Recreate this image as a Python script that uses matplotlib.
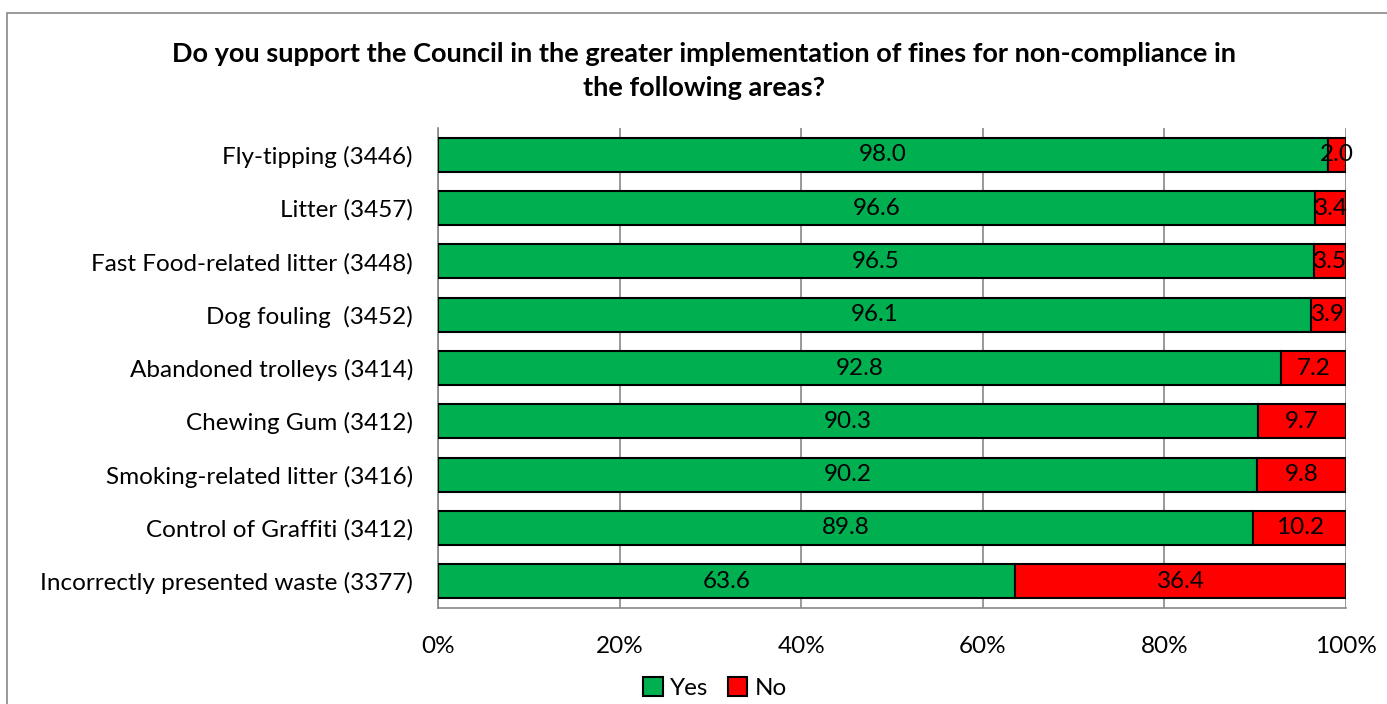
import numpy as np
import matplotlib.pyplot as plt
from matplotlib.patches import Rectangle
from matplotlib.ticker import FuncFormatter

plt.rcParams['font.family'] = ['Lato', 'DejaVu Sans']

categories = ['Fly-tipping (3446)', 'Litter (3457)', 'Fast Food-related litter (3448)',
              'Dog fouling  (3452)', 'Abandoned trolleys (3414)', 'Chewing Gum (3412)',
              'Smoking-related litter (3416)', 'Control of Graffiti (3412)',
              'Incorrectly presented waste (3377)']
yes_vals = [98.0, 96.6, 96.5, 96.1, 92.8, 90.3, 90.2, 89.8, 63.6]
no_vals = [2.0, 3.4, 3.5, 3.9, 7.2, 9.7, 9.8, 10.2, 36.4]
title = 'Do you support the Council in the greater implementation of fines for non-compliance in\nthe following areas?'

green = '#00B050'
red = '#FF0000'
fs = 17.5

fig = plt.figure(figsize=(13.87, 7.04), dpi=100)
ax = fig.add_axes([438/1387, 1-608/704, (1346-438)/1387, 480/704])

# chart border
fig.patches.append(Rectangle((7/1387, -0.05), 1.1, 1-13/704+0.05, transform=fig.transFigure,
                             fill=False, edgecolor='#888888', linewidth=1.2))

y = np.arange(len(categories))
ax.barh(y, yes_vals, height=0.64, color=green, edgecolor='black', linewidth=1.5, label='Yes', zorder=3)
ax.barh(y, no_vals, left=yes_vals, height=0.64, color=red, edgecolor='black', linewidth=1.5, label='No', zorder=3)

for i in range(len(categories)):
    ax.text(yes_vals[i] / 2, i, f'{yes_vals[i]:.1f}', ha='center', va='center', fontsize=fs, zorder=4)
    ax.text(yes_vals[i] + no_vals[i] / 2, i, f'{no_vals[i]:.1f}', ha='center', va='center', fontsize=fs, zorder=4)

ax.set_xlim(0, 100)
ax.set_ylim(len(categories) - 0.5, -0.5)
ax.set_yticks(y)
ax.set_yticklabels(categories, fontsize=fs)
ax.set_xticks(np.arange(0, 101, 20))
ax.xaxis.set_major_formatter(FuncFormatter(lambda v, p: f'{v:.0f}%'))
ax.tick_params(axis='x', labelsize=fs, length=0, pad=20)
ax.tick_params(axis='y', length=0, pad=18)
ax.grid(axis='x', color='#888888', linewidth=1.2, zorder=0)
for s in ['top', 'right']:
    ax.spines[s].set_visible(False)
ax.spines['left'].set_color('#888888')
ax.spines['left'].set_linewidth(1.2)
ax.spines['bottom'].set_color('#888888')
ax.spines['bottom'].set_linewidth(1.2)

fig.text(704/1387, 1-71/704, title, ha='center', va='center', fontsize=19.5, fontweight='bold', linespacing=1.5)

fig.legend(loc='center', bbox_to_anchor=(715/1387, 1-688/704), ncol=2, frameon=False, fontsize=fs,
           handlelength=0.8, handleheight=0.8, handletextpad=0.3, columnspacing=0.8)

fig.savefig('out.png', dpi=100)
